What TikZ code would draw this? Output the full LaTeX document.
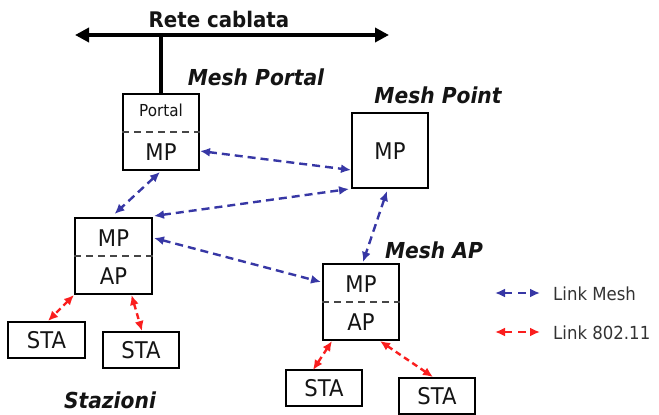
\documentclass[tikz,border=0pt]{standalone}
\usepackage{fontspec}
\setmainfont{DejaVu Sans}[FakeStretch=0.92]
\usetikzlibrary{arrows.meta,calc}
\definecolor{meshblue}{RGB}{55,55,165}
\definecolor{wifired}{RGB}{250,30,30}
\definecolor{inktext}{RGB}{20,20,20}
\definecolor{splitgray}{RGB}{70,70,70}
\begin{document}
\begin{tikzpicture}[x=1pt,y=-1pt,
  devbox/.style={draw=black,line width=2pt,minimum width=76pt,minimum height=76pt,inner sep=0pt,fill=white},
  stabox/.style={draw=black,line width=2pt,minimum width=77pt,minimum height=36pt,inner sep=0pt,
    text=inktext,font=\fontsize{23}{26}\selectfont},
  lbl/.style={text=inktext,font=\fontsize{23}{26}\selectfont,inner sep=0pt},
  tag/.style={text=inktext,font=\fontsize{22}{26}\selectfont\bfseries\itshape,inner sep=0pt},
  split/.style={draw=splitgray,line width=2.4pt,dash pattern=on 7pt off 5pt},
  tips/.style={{Latex[length=10pt,width=9pt]}-{Latex[length=10pt,width=9pt]}},
  meshlink/.style={draw=meshblue,line width=2.4pt,dash pattern=on 8pt off 5pt,tips},
  wifilink/.style={draw=wifired,line width=2.4pt,dash pattern=on 6pt off 4pt,tips},
  legtext/.style={text=black!80,font=\fontsize{18}{22}\selectfont,anchor=west,inner sep=0pt}]
\useasboundingbox (0,0) rectangle (659,415);

% wired backbone
\coordinate (wl) at (75,35);
\coordinate (wr) at (389,35);
\coordinate (tap) at (161,35);
\draw[line width=4.5pt,{Triangle[length=14pt,width=14pt]}-{Triangle[length=14pt,width=14pt]}] (wl) -- (wr);
\node[lbl,font=\fontsize{21.5}{24}\selectfont\bfseries] (rete) at (219,19) {Rete cablata};

% mesh devices
\node[devbox] (portal) at (161,132) {};
\draw[line width=4.5pt] (tap) -- (portal.north);
\draw[split] (portal.west) -- (portal.east);
\node[lbl,font=\fontsize{16.5}{20}\selectfont] (portaltxt) at (161,110) {Portal};
\node[lbl] (portalmp) at (161,152) {MP};

\node[devbox,minimum height=75pt] (mpt) at (390,150.5) {};
\node[lbl] (mptxt) at (390,151) {MP};

\node[devbox,minimum width=77pt] (left) at (113.5,256) {};
\draw[split] (left.west) -- (left.east);
\node[lbl] (leftmp) at (113.5,238) {MP};
\node[lbl] (leftap) at (113.5,276) {AP};

\node[devbox] (map) at (361,302) {};
\draw[split] (map.west) -- (map.east);
\node[lbl] (mapmp) at (361,284) {MP};
\node[lbl] (mapap) at (361,322) {AP};

% stations
\node[stabox] (sta1) at (46.5,340) {STA};
\node[stabox,minimum width=76pt] (sta2) at (141,350) {STA};
\node[stabox,minimum width=76pt] (sta3) at (324,388) {STA};
\node[stabox,minimum width=76pt] (sta4) at (437,396) {STA};

% role labels
\node[tag] (tportal) at (256,77) {Mesh Portal};
\node[tag] (tpoint) at (438,95) {Mesh Point};
\node[tag] (tap2) at (434,250) {Mesh AP};
\node[tag] (tsta) at (110,400) {Stazioni};

% mesh links
\draw[meshlink] ([yshift=-19pt]portal.east) -- ([yshift=-19.5pt]mpt.west);
\draw[meshlink] ([xshift=-1pt,yshift=-1pt]portal.south) -- ([xshift=1pt,yshift=3pt]left.north);
\draw[meshlink] ([xshift=1pt,yshift=1pt]left.north east) -- ([xshift=-2pt]mpt.south west);
\draw[meshlink] ([xshift=1pt,yshift=18pt]left.east) -- ([xshift=-1pt,yshift=20pt]map.west);
\draw[meshlink] ([xshift=-3pt,yshift=-2pt]mpt.south) -- ([xshift=2pt,yshift=1pt]map.north);

% 802.11 links
\draw[wifilink] (left.south west) -- ([xshift=1.5pt]sta1.north);
\draw[wifilink] ([xshift=18pt]left.south) -- ([xshift=1pt]sta2.north);
\draw[wifilink] ([xshift=-29pt]map.south) -- ([xshift=-11pt,yshift=-1pt]sta3.north);
\draw[wifilink] ([xshift=19pt]map.south) -- ([xshift=-4pt]sta4.north);

% legend
\coordinate (lm1) at (495,293);
\coordinate (lm2) at (540,293);
\coordinate (lw1) at (495,332);
\coordinate (lw2) at (540,332);
\draw[meshlink,line width=2pt,dash pattern=on 8pt off 6pt] (lm1) -- (lm2);
\draw[wifilink,line width=2pt,dash pattern=on 8pt off 6pt] (lw1) -- (lw2);
\node[legtext] (lgm) at (553,294) {Link Mesh};
\node[legtext] (lgw) at (553,333) {Link 802.11};
\end{tikzpicture}
\end{document}
